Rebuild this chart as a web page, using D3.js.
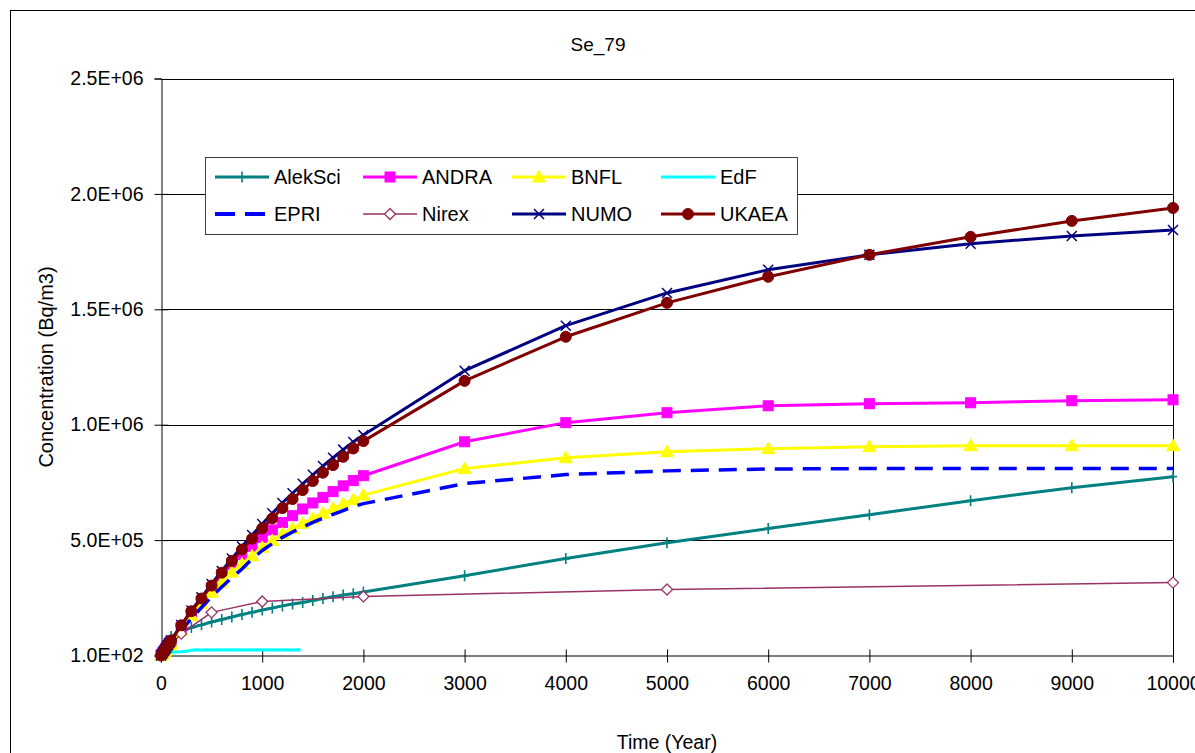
<!DOCTYPE html>
<html>
<head>
<meta charset="utf-8">
<script src="https://cdn.jsdelivr.net/npm/d3@7"></script>
<style>
  html, body { margin: 0; padding: 0; background: #fff; }
  svg { display: block; font-family: "Liberation Sans", Arial, sans-serif; }
</style>
</head>
<body>
<svg id="chart" width="1195" height="753"></svg>
<script>
// ---- Data: Se-79 concentration (Bq/m3) against time (years) ----
const chartTitle = "Se_79";
const xTitle = "Time (Year)";
const yTitle = "Concentration (Bq/m3)";

const xTicks = [0, 1000, 2000, 3000, 4000, 5000, 6000, 7000, 8000, 9000, 10000];
const yTicks = [100, 500000, 1000000, 1500000, 2000000, 2500000];

// shared time grids
const tFine = [0, 10, 20, 30, 40, 50, 60, 70, 80, 90, 100,
  200, 300, 400, 500, 600, 700, 800, 900, 1000, 1100, 1200, 1300, 1400, 1500,
  1600, 1700, 1800, 1900, 2000, 3000, 4000, 5000, 6000, 7000, 8000, 9000, 10000];
const tStd = [0, 100, 200, 300, 400, 500, 600, 700, 800, 900, 1000, 1100, 1200, 1300,
  1400, 1500, 1600, 1700, 1800, 1900, 2000, 3000, 4000, 5000, 6000, 7000, 8000, 9000, 10000];

const alekSci = [0, 82000, 104000, 121000, 133000, 145000, 156000, 167000, 178000, 187000,
  197000, 206000, 215000, 223000, 230000, 238000, 247000, 255000, 262000, 268000,
  275000, 346000, 420000, 489000, 550000, 610000, 671000, 727000, 775000];

const andra = [0, 6000, 12000, 18000, 24000, 30000, 36000, 42000, 49000, 55000, 62000,
  122000, 180000, 236000, 292000, 350000, 397000, 437000, 473000, 512000, 544000,
  576000, 606000, 635000, 661000, 685000, 710000, 735000, 758000, 779000,
  926000, 1009000, 1052000, 1082000, 1091000, 1095000, 1104000, 1108000];

const bnfl = [0, 5000, 11000, 16000, 22000, 27000, 33000, 38000, 44000, 49000, 55000,
  108000, 173000, 226000, 274000, 317000, 361000, 397000, 432000, 469000, 498000,
  527000, 551000, 573000, 594000, 616000, 638000, 657000, 675000, 695000,
  810000, 857000, 883000, 896000, 905000, 909000, 909000, 909000];

const tEdf = [0, 25, 50, 75, 100, 150, 200, 250, 300, 350, 400, 450, 500, 550, 600, 650,
  700, 750, 800, 850, 900, 950, 1000, 1050, 1100, 1150, 1200, 1250, 1300, 1350, 1380];
const edf = [0, 6000, 10000, 13000, 14500, 15500, 16500, 18000, 23000, 24500, 24000, 25000,
  24000, 25000, 24000, 25000, 24000, 25000, 24000, 25000, 24000, 25000, 24000, 25000,
  24000, 25000, 24000, 25000, 24000, 25000, 24000];

const epri = [0, 55000, 108000, 160000, 208000, 255000, 297000, 337000, 375000, 418000,
  455000, 485000, 512000, 535000, 556000, 577000, 595000, 612000, 628000, 645000,
  658000, 745000, 784000, 800000, 808000, 810000, 810000, 810000, 810000];

const tNirex = [0, 200, 500, 1000, 2000, 5000, 10000];
const nirex = [0, 95000, 187000, 234000, 256000, 286000, 316000];

const numo = [0, 7000, 13000, 20000, 26000, 33000, 40000, 46000, 53000, 59000, 66000,
  132000, 195000, 252000, 310000, 366000, 420000, 472000, 522000, 570000, 616000,
  661000, 703000, 744000, 783000, 821000, 857000, 892000, 925000, 955000,
  1234000, 1429000, 1571000, 1671000, 1736000, 1784000, 1818000, 1844000];

const ukaea = [0, 6000, 13000, 20000, 26000, 33000, 39000, 46000, 52000, 58000, 65000,
  131000, 192000, 247000, 303000, 359000, 410000, 459000, 506000, 551000, 594000,
  639000, 678000, 717000, 756000, 792000, 825000, 861000, 897000, 929000,
  1190000, 1381000, 1528000, 1641000, 1736000, 1814000, 1883000, 1939000];

// ---- series styling ----
const series = [
  { name: "AlekSci", t: tStd,   v: alekSci, color: "#008080", width: 3,   marker: "plus" },
  { name: "ANDRA",   t: tFine,  v: andra,   color: "#FF00FF", width: 3,   marker: "square" },
  { name: "BNFL",    t: tFine,  v: bnfl,    color: "#FFFF00", width: 3,   marker: "triangle" },
  { name: "EdF",     t: tEdf,   v: edf,     color: "#00FFFF", width: 3,   marker: null },
  { name: "EPRI",    t: tStd,   v: epri,    color: "#0000FF", width: 3.5, marker: null, dash: "18,10" },
  { name: "Nirex",   t: tNirex, v: nirex,   color: "#993366", width: 1.5, marker: "diamond" },
  { name: "NUMO",    t: tFine,  v: numo,    color: "#000080", width: 3,   marker: "times" },
  { name: "UKAEA",   t: tFine,  v: ukaea,   color: "#800000", width: 3,   marker: "circle" }
];

// ---- layout ----
const svg = d3.select("#chart");
const plot = { left: 161, right: 1173, top: 78.5, bottom: 655.5 };
const tickFont = 19.5;

const x = d3.scaleLinear().domain([0, 10000]).range([plot.left, plot.right]);
const y = d3.scaleLinear().domain([100, 2500000]).range([plot.bottom, plot.top]);

svg.append("rect").attr("width", 1195).attr("height", 753).attr("fill", "#fff");

// outer chart frame
svg.append("rect")
  .attr("x", 10.5).attr("y", 10.5).attr("width", 1220).attr("height", 800)
  .attr("fill", "none").attr("stroke", "#000").attr("stroke-width", 1);

// horizontal gridlines
svg.append("g").selectAll("line")
  .data(yTicks.slice(1))
  .join("line")
  .attr("x1", plot.left).attr("x2", plot.right)
  .attr("y1", d => Math.round(y(d)) + 0.5).attr("y2", d => Math.round(y(d)) + 0.5)
  .attr("stroke", "#000").attr("stroke-width", 1);

// right border of plot area
svg.append("line")
  .attr("x1", plot.right + 0.5).attr("x2", plot.right + 0.5)
  .attr("y1", plot.top).attr("y2", plot.bottom)
  .attr("stroke", "#000");

// exponent-style labels, e.g. 5.0E+05
function sci(d) {
  const e = Math.floor(Math.log10(Math.abs(d)));
  const m = d / Math.pow(10, e);
  return m.toFixed(1) + "E+" + String(e).padStart(2, "0");
}

// y axis
const yAxis = svg.append("g")
  .attr("transform", `translate(${plot.left + 0.5},0)`)
  .call(d3.axisLeft(y).tickValues(yTicks).tickFormat(sci).tickSize(7).tickPadding(11));
yAxis.select(".domain").attr("stroke", "#000");
yAxis.selectAll(".tick line").attr("x1", d => (d === 100 || d === 2500000) ? 0 : 7);
yAxis.selectAll(".tick text")
  .attr("font-size", tickFont).attr("font-family", "Liberation Sans, Arial, sans-serif").attr("fill", "#000");

// x axis
const xAxis = svg.append("g")
  .attr("transform", `translate(0,${plot.bottom})`)
  .call(d3.axisBottom(x).tickValues(xTicks).tickFormat(d3.format("d")).tickSize(7).tickPadding(14));
xAxis.select(".domain").attr("stroke", "#000");
xAxis.selectAll(".tick line").attr("y1", d => (d === 10000) ? 0 : -6);
xAxis.selectAll(".tick text")
  .attr("font-size", tickFont).attr("font-family", "Liberation Sans, Arial, sans-serif").attr("fill", "#000");

// ---- markers ----
function drawMarker(sel, kind, color) {
  if (kind === "circle") {
    sel.append("circle").attr("r", 5.5).attr("fill", color).attr("stroke", color);
  } else if (kind === "square") {
    sel.append("rect").attr("x", -5).attr("y", -5).attr("width", 10).attr("height", 10)
      .attr("fill", color).attr("stroke", color);
  } else if (kind === "triangle") {
    sel.append("path").attr("d", "M0,-6.5L6.5,5L-6.5,5Z").attr("fill", color).attr("stroke", color);
  } else if (kind === "diamond") {
    sel.append("path").attr("d", "M0,-5.5L5.5,0L0,5.5L-5.5,0Z")
      .attr("fill", "#fff").attr("stroke", color).attr("stroke-width", 1.3);
  } else if (kind === "times") {
    sel.append("path").attr("d", "M-5,-5L5,5M-5,5L5,-5")
      .attr("fill", "none").attr("stroke", color).attr("stroke-width", 1.5);
  } else if (kind === "plus") {
    sel.append("path").attr("d", "M0,-5.5L0,5.5M-4,0L4,0")
      .attr("fill", "none").attr("stroke", color).attr("stroke-width", 1.6);
  }
}

const line = d3.line().x(d => x(d[0])).y(d => y(d[1]));

const seriesG = svg.append("g");
series.forEach(s => {
  const pts = s.t.map((t, i) => [t, s.v[i]]);
  const g = seriesG.append("g");
  g.append("path")
    .attr("d", line(pts))
    .attr("fill", "none")
    .attr("stroke", s.color)
    .attr("stroke-width", s.width)
    .attr("stroke-linejoin", "round")
    .attr("stroke-dasharray", s.dash || null);
  if (s.marker) {
    g.selectAll("g.mk").data(pts).join("g")
      .attr("class", "mk")
      .attr("transform", d => `translate(${x(d[0])},${y(d[1])})`)
      .each(function () { drawMarker(d3.select(this), s.marker, s.color); });
  }
});

// ---- titles ----
svg.append("text")
  .attr("x", 598).attr("y", 51)
  .attr("text-anchor", "middle").attr("font-size", 19).attr("fill", "#000")
  .text(chartTitle);

svg.append("text")
  .attr("x", (plot.left + plot.right) / 2).attr("y", 749)
  .attr("text-anchor", "middle").attr("font-size", 19.5).attr("fill", "#000")
  .text(xTitle);

svg.append("text")
  .attr("transform", `translate(53,${(plot.top + plot.bottom) / 2}) rotate(-90)`)
  .attr("text-anchor", "middle").attr("font-size", 20).attr("fill", "#000")
  .text(yTitle);

// ---- legend ----
const legend = { x: 205.5, y: 157.5, w: 592, h: 77 };
const lg = svg.append("g");
lg.append("rect")
  .attr("x", legend.x).attr("y", legend.y).attr("width", legend.w).attr("height", legend.h)
  .attr("fill", "#fff").attr("stroke", "#404040").attr("stroke-width", 1);

const colX = [215, 363, 512, 661];
const rowY = [177, 214];
series.forEach((s, i) => {
  const cx = colX[i % 4], cy = rowY[Math.floor(i / 4)];
  const item = lg.append("g").attr("transform", `translate(${cx},${cy})`);
  item.append("line")
    .attr("x1", 0).attr("x2", 54).attr("y1", 0).attr("y2", 0)
    .attr("stroke", s.color)
    .attr("stroke-width", s.dash ? 4 : s.width)
    .attr("stroke-dasharray", s.dash ? "20,10" : null);
  if (s.marker) {
    const m = item.append("g").attr("transform", "translate(27,0)");
    drawMarker(m, s.marker, s.color);
  }
  item.append("text")
    .attr("x", 59).attr("y", 0).attr("dy", "0.36em")
    .attr("font-size", 20).attr("fill", "#000")
    .text(s.name);
});
</script>
</body>
</html>
